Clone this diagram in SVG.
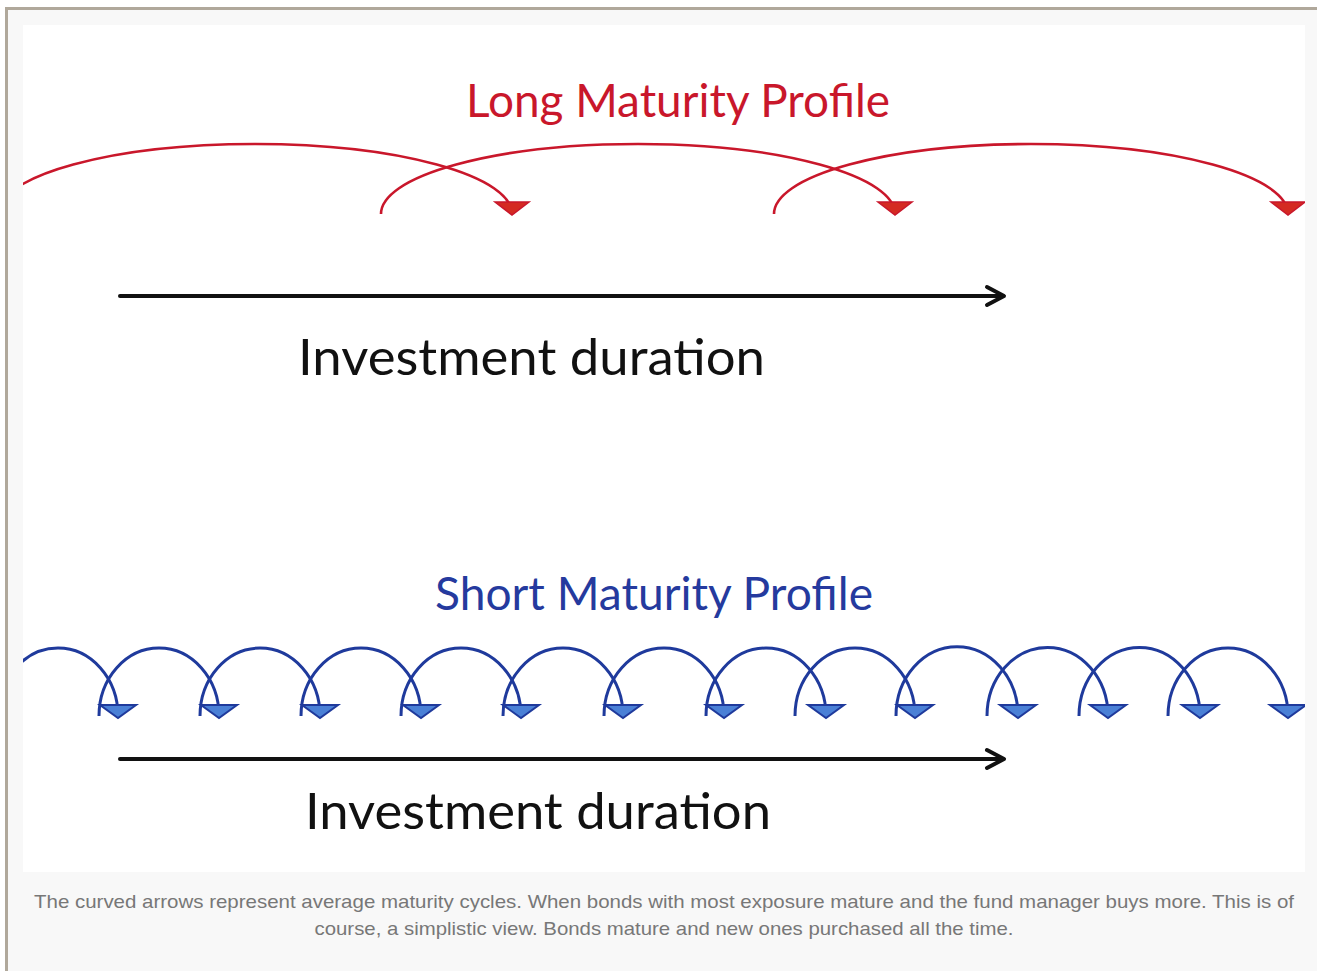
<svg xmlns="http://www.w3.org/2000/svg" width="1317" height="971" viewBox="0 0 1317 971">
<defs>
<style>
.lbl{font-family:Lato,"Open Sans","Liberation Sans",sans-serif;}
.red{fill:none;stroke:#c9172b;stroke-width:2.6;}
.redhead{fill:#d42a22;stroke:#c9172b;stroke-width:1.5;}
.blue{fill:none;stroke:#1f3a9c;stroke-width:3;}
.bluehead{fill:#4a80d6;stroke:#1f3a9c;stroke-width:2;}
.axis{stroke:#111;stroke-width:4;fill:none;stroke-linecap:round;stroke-linejoin:round;}
.cap{font-family:"Liberation Sans",Arial,sans-serif;font-size:18.5px;fill:#777;}
</style>
<clipPath id="panel"><rect x="23" y="25" width="1282" height="847"/></clipPath>
</defs>
<rect x="0" y="0" width="1317" height="971" fill="#ffffff"/>
<rect x="5" y="7" width="1312" height="964" fill="#f8f8f8"/>
<rect x="5" y="7" width="1312" height="3" fill="#b0a89b"/>
<rect x="5" y="7" width="3" height="964" fill="#b0a89b"/>
<rect x="23" y="25" width="1282" height="847" fill="#ffffff"/>

<g id="long-title"><text class="lbl" x="466" y="117" font-size="46" fill="#c9172b" textLength="424" lengthAdjust="spacingAndGlyphs">Long Maturity Profile</text></g>
<g id="short-title"><text class="lbl" x="435" y="610" font-size="46" fill="#253a9e" textLength="438" lengthAdjust="spacingAndGlyphs">Short Maturity Profile</text></g>
<g id="duration-top"><text class="lbl" x="298" y="375" font-size="50" fill="#111" textLength="467" lengthAdjust="spacingAndGlyphs">Investment duration</text></g>
<g id="duration-bottom"><text class="lbl" x="305" y="829" font-size="50" fill="#111" textLength="466" lengthAdjust="spacingAndGlyphs">Investment duration</text></g>

<g id="connectors" clip-path="url(#panel)">
<g id="long-arcs">
<path class="red" d="M -2 214 A 257 70 0 0 1 512 214"/>
<path class="red" d="M 381 214 A 257 70 0 0 1 895 214"/>
<path class="red" d="M 774 214 A 257 70 0 0 1 1288 214"/>
<polygon class="redhead" points="495,202 529,202 512,215"/>
<polygon class="redhead" points="878,202 912,202 895,215"/>
<polygon class="redhead" points="1271,202 1305,202 1288,215"/>
</g>
<g id="short-arcs">
<path class="blue" d="M -2 716 A 60 68 0 0 1 118 716"/>
<path class="blue" d="M 99 716 A 60 68 0 0 1 219 716"/>
<path class="blue" d="M 200 716 A 60 68 0 0 1 320 716"/>
<path class="blue" d="M 301 716 A 60 68 0 0 1 421 716"/>
<path class="blue" d="M 401 716 A 60 68 0 0 1 521 716"/>
<path class="blue" d="M 503 716 A 60 68 0 0 1 623 716"/>
<path class="blue" d="M 604 716 A 60 68 0 0 1 724 716"/>
<path class="blue" d="M 706 716 A 60 68 0 0 1 826 716"/>
<path class="blue" d="M 795 716 A 60 68 0 0 1 915 716"/>
<path class="blue" d="M 896 716 A 60 68 0 0 1 1018 716"/>
<path class="blue" d="M 987 716 A 60 68 0 0 1 1108 716"/>
<path class="blue" d="M 1079 716 A 60 68 0 0 1 1200 716"/>
<path class="blue" d="M 1168 716 A 60 68 0 0 1 1288 716"/>
<polygon class="bluehead" points="100,705 136,705 118,718"/>
<polygon class="bluehead" points="201,705 237,705 219,718"/>
<polygon class="bluehead" points="302,705 338,705 320,718"/>
<polygon class="bluehead" points="403,705 439,705 421,718"/>
<polygon class="bluehead" points="503,705 539,705 521,718"/>
<polygon class="bluehead" points="605,705 641,705 623,718"/>
<polygon class="bluehead" points="706,705 742,705 724,718"/>
<polygon class="bluehead" points="808,705 844,705 826,718"/>
<polygon class="bluehead" points="897,705 933,705 915,718"/>
<polygon class="bluehead" points="1000,705 1036,705 1018,718"/>
<polygon class="bluehead" points="1090,705 1126,705 1108,718"/>
<polygon class="bluehead" points="1182,705 1218,705 1200,718"/>
<polygon class="bluehead" points="1270,705 1306,705 1288,718"/>
</g>
<g id="duration-arrows">
<line class="axis" x1="120" y1="296" x2="1002" y2="296"/>
<polyline class="axis" points="987,287 1004,296 987,305"/>
<line class="axis" x1="120" y1="759" x2="1002" y2="759"/>
<polyline class="axis" points="987,750 1004,759 987,768"/>
</g>
</g>

<g id="caption">
<text class="cap" x="664" y="908" text-anchor="middle" textLength="1260" lengthAdjust="spacingAndGlyphs">The curved arrows represent average maturity cycles. When bonds with most exposure mature and the fund manager buys more. This is of</text>
<text class="cap" x="664" y="935" text-anchor="middle" textLength="699" lengthAdjust="spacingAndGlyphs">course, a simplistic view. Bonds mature and new ones purchased all the time.</text>
</g>
</svg>
